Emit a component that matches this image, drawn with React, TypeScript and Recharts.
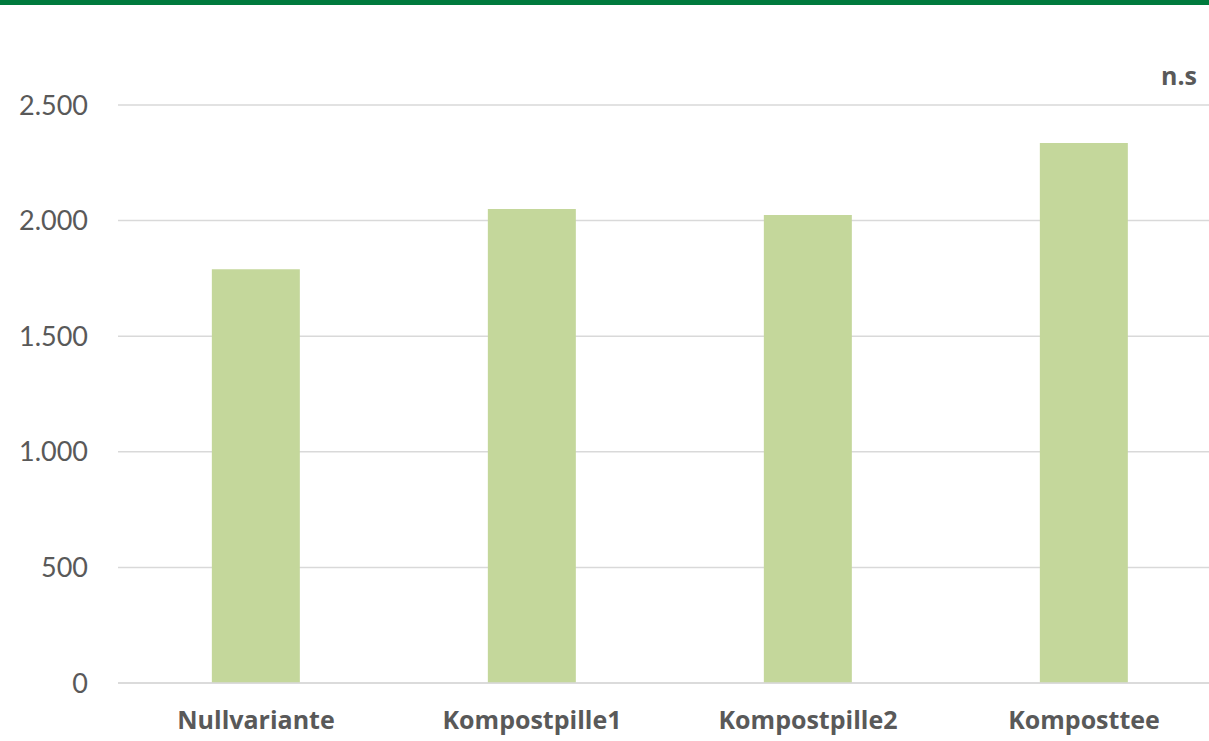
import { BarChart, Bar, XAxis, YAxis, CartesianGrid } from 'recharts';

const categories = ['Nullvariante', 'Kompostpille1', 'Kompostpille2', 'Komposttee'];
const values = [1790, 2050, 2024, 2336];
const yTicks = [0, 500, 1000, 1500, 2000, 2500];

const data = categories.map((name, i) => ({ name, value: values[i] }));

const fmt = (v: number) => String(v).replace(/\B(?=(\d{3})+(?!\d))/g, '.');

const font = 'Lato, "Open Sans", sans-serif';
const boldFont = '"Open Sans", Lato, sans-serif';

export default function App() {
    return (
        <div style={{ position: 'absolute', left: 0, top: 0, width: 1209, height: 741, overflow: 'hidden', background: '#fff', fontFamily: font }}>
            <div style={{ position: 'absolute', left: 0, top: 0, width: 1209, height: 5, background: '#007a3d' }} />
            <div style={{ position: 'absolute', right: 12, top: 58, fontSize: 25, fontWeight: 700, color: '#595959', fontFamily: boldFont }}>n.s</div>
            <BarChart
                width={1232}
                height={741}
                data={data}
                margin={{ top: 105, right: 10, bottom: 18, left: 0 }}
                barCategoryGap="34%"
            >
                <CartesianGrid vertical={false} stroke="#d9d9d9" strokeWidth={1.5} />
                <XAxis
                    dataKey="name"
                    height={40}
                    axisLine={{ stroke: '#d9d9d9', strokeWidth: 1.5 }}
                    tickLine={false}
                    tickMargin={22}
                    tick={{ fill: '#595959', fontSize: 25, fontWeight: 700, fontFamily: boldFont }}
                    interval={0}
                />
                <YAxis
                    width={118}
                    domain={[0, 2500]}
                    ticks={yTicks}
                    axisLine={false}
                    tickLine={false}
                    tickMargin={24}
                    tickFormatter={fmt}
                    tick={{ fill: '#595959', fontSize: 27, fontFamily: font }}
                />
                <Bar dataKey="value" fill="#c4d79b" isAnimationActive={false} />
            </BarChart>
        </div>
    );
}
